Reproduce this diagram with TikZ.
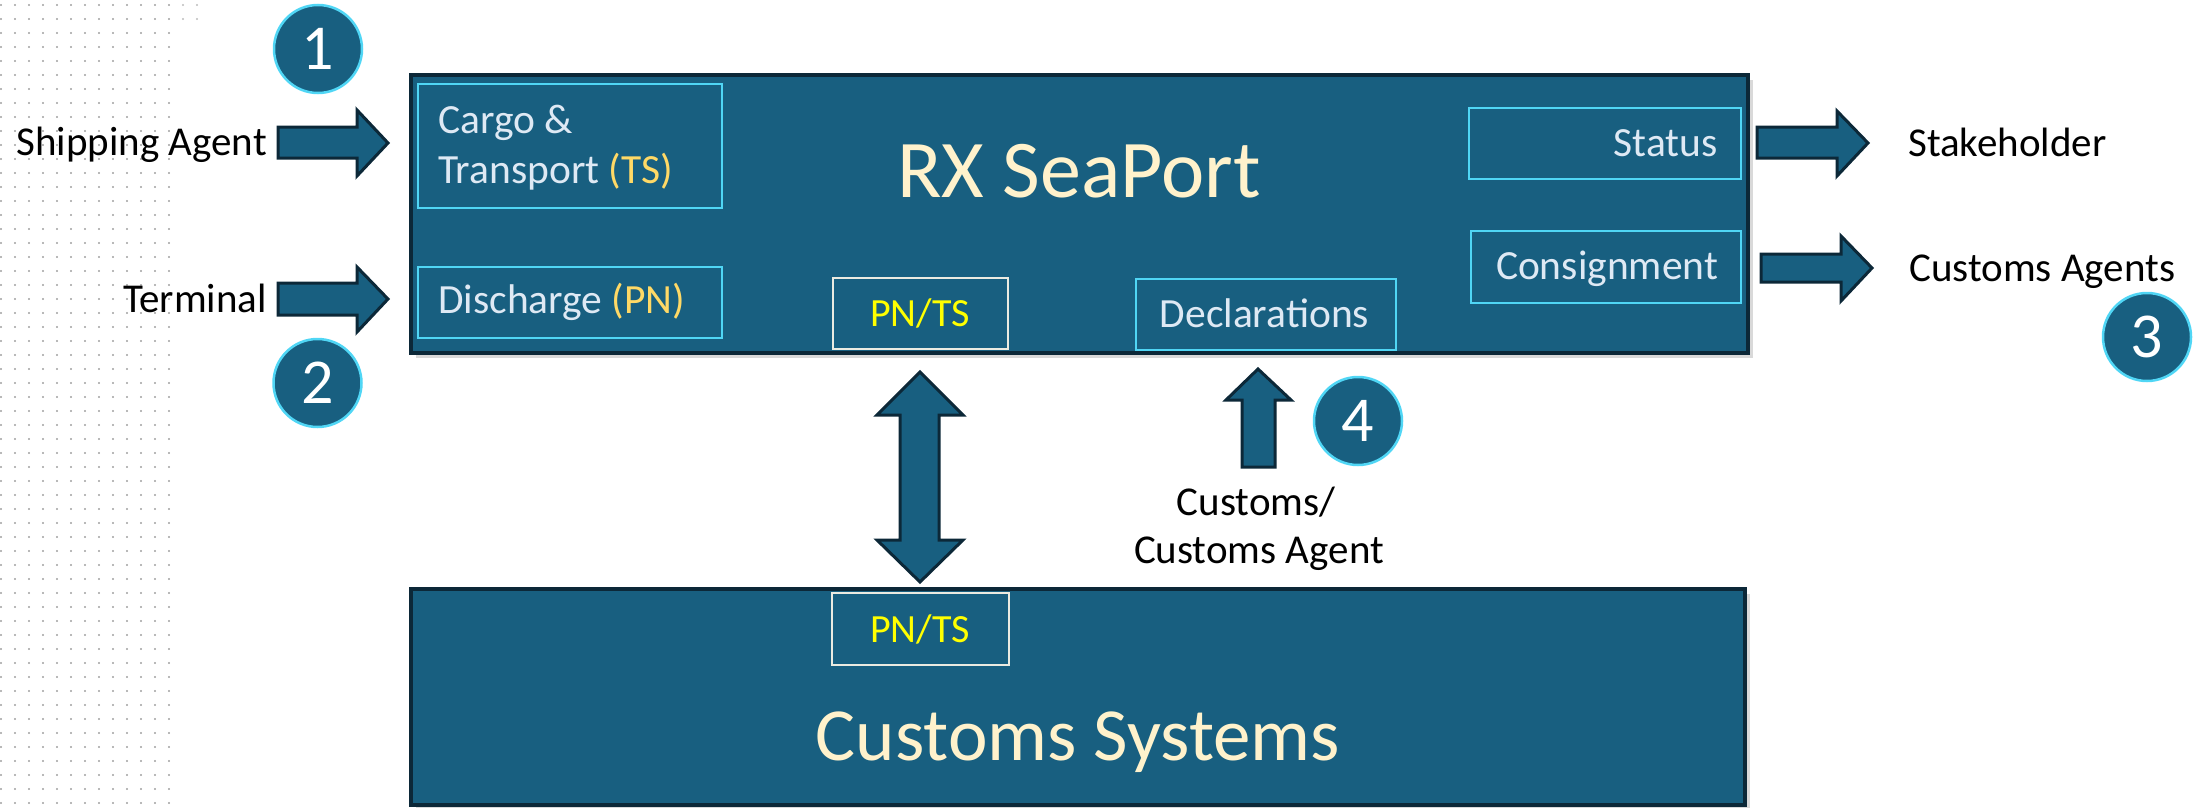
\documentclass[tikz,border=0pt]{standalone}
\usepackage{fontspec}
\setmainfont{Carlito}
\usetikzlibrary{shadows}
\definecolor{boxblue}{RGB}{24,95,128}
\definecolor{boxedge}{RGB}{12,40,56}
\definecolor{cyanedge}{RGB}{80,214,245}
\definecolor{paleedge}{RGB}{235,235,225}
\definecolor{boxtext}{RGB}{222,233,244}
\definecolor{goldtext}{RGB}{255,217,102}
\definecolor{creamtext}{RGB}{255,242,204}
\definecolor{pnyellow}{RGB}{255,255,0}
\definecolor{dotgray}{RGB}{160,160,160}
\begin{document}
\begin{tikzpicture}[x=1pt,y=-1pt,
  bigbox/.style={draw=boxedge, line width=4pt, fill=boxblue, inner sep=0pt, outer sep=0pt, anchor=north west,
    drop shadow={shadow xshift=5pt, shadow yshift=-5pt, opacity=0.3}},
  subbox/.style={draw=cyanedge, line width=2pt, fill=boxblue, inner sep=0pt, anchor=north west},
  pnbox/.style={draw=paleedge, line width=2pt, fill=boxblue, inner sep=0pt, anchor=north west},
  lbl/.style={inner sep=0pt, text=black, font=\fontsize{41}{48}\selectfont},
  intext/.style={inner sep=0pt, text=boxtext, font=\fontsize{41.5}{48}\selectfont},
  pntext/.style={inner sep=0pt, text=pnyellow, font=\fontsize{40}{48}\selectfont},
  numc/.style={circle, draw=cyanedge, line width=2.5pt, fill=boxblue, minimum size=88pt, inner sep=0pt,
    text=white, font=\fontsize{64}{64}\selectfont},
  blockarrow/.style={draw=boxedge, line width=3pt, fill=boxblue, line join=miter}]
\useasboundingbox (0,0) rectangle (2204,808);
% dotted background
\foreach \i in {0,...,12}{\foreach \j in {0,...,57}{\fill[dotgray] (1+14*\i,5+14*\j) circle (1.1pt);}}
\foreach \i in {13,14}{\foreach \j in {0,1}{\fill[dotgray!70] (1+14*\i,5+14*\j) circle (1.1pt);}}
% main boxes
\node[bigbox, minimum width=1337pt, minimum height=278pt] (sea) at (411,75) {};
\node[bigbox, minimum width=1334pt, minimum height=216pt] (cust) at (411,589) {};
% sub boxes
\node[subbox, minimum width=304pt, minimum height=124pt] (cargo) at (417,83) {};
\node[subbox, minimum width=304pt, minimum height=71pt] (dis) at (417,266) {};
\node[pnbox, minimum width=175pt, minimum height=71pt] (pn1) at (832,277) {};
\node[subbox, minimum width=260pt, minimum height=71pt] (decl) at (1135,278) {};
\node[subbox, minimum width=272pt, minimum height=71pt] (stat) at (1468,107) {};
\node[subbox, minimum width=270pt, minimum height=72pt] (cons) at (1470,230) {};
\node[pnbox, minimum width=177pt, minimum height=72pt] (pn2) at (831,592) {};
% texts inside
\node[intext, anchor=base west] (cargot1) at (438,133) {Cargo \&};
\node[intext, anchor=base west] (cargot2) at (438,183) {Transport \textcolor{goldtext}{(TS)}};
\node[intext, anchor=base west] (dist) at (438,313) {Discharge \textcolor{goldtext}{(PN)}};
\node[pntext, anchor=base] (pn1t) at (920,326) {PN/TS};
\node[intext, anchor=base] (declt) at (1264.5,327) {Declarations};
\node[intext, anchor=base east] (statt) at (1718,156) {Status};
\node[intext, anchor=base] (const) at (1607,279) {Consignment};
\node[inner sep=0pt, anchor=base west, text=creamtext, font=\fontsize{82}{90}\selectfont] (rx) at (897,197) {RX SeaPort};
\node[pntext, anchor=base] (pn2t) at (920,642) {PN/TS};
\node[inner sep=0pt, anchor=base, text=creamtext, font=\fontsize{75}{85}\selectfont] (cst) at (1078,760) {Customs Systems};
% outside labels
\node[lbl, anchor=base east] (ship) at (267,155) {Shipping Agent};
\node[lbl, anchor=base east] (term) at (267,312) {Terminal};
\node[lbl, anchor=base west] (stake) at (1908,156) {Stakeholder};
\node[lbl, anchor=base west] (cagents) at (1909,281) {Customs Agents};
\node[lbl, anchor=base] (cc1) at (1256,515) {Customs/};
\node[lbl, anchor=base] (cc2) at (1259,563) {Customs Agent};
% block arrows
\draw[blockarrow] (278,127) -- (357,127) -- (357,110) -- (388,143) -- (357,176) -- (357,158) -- (278,158) -- cycle;
\draw[blockarrow] (278,283) -- (357,283) -- (357,267) -- (388,299) -- (357,332) -- (357,315) -- (278,315) -- cycle;
\draw[blockarrow] (1757,127) -- (1837,127) -- (1837,111) -- (1868,143) -- (1837,176) -- (1837,158) -- (1757,158) -- cycle;
\draw[blockarrow] (1761,254) -- (1841,254) -- (1841,236) -- (1872,268) -- (1841,301) -- (1841,282) -- (1761,282) -- cycle;
\draw[blockarrow] (920,372) -- (963,415) -- (939,415) -- (939,540) -- (963,540) -- (920,582) -- (877,540) -- (900,540) -- (900,415) -- (877,415) -- cycle;
\draw[blockarrow] (1258,369) -- (1291,400) -- (1275,400) -- (1275,467) -- (1242,467) -- (1242,400) -- (1226,400) -- cycle;
% number circles
\node[numc] (n1) at (318,49) {1};
\node[numc] (n2) at (317.5,383) {2};
\node[numc] (n3) at (2147,337) {3};
\node[numc] (n4) at (1358,421) {4};
\end{tikzpicture}
\end{document}
